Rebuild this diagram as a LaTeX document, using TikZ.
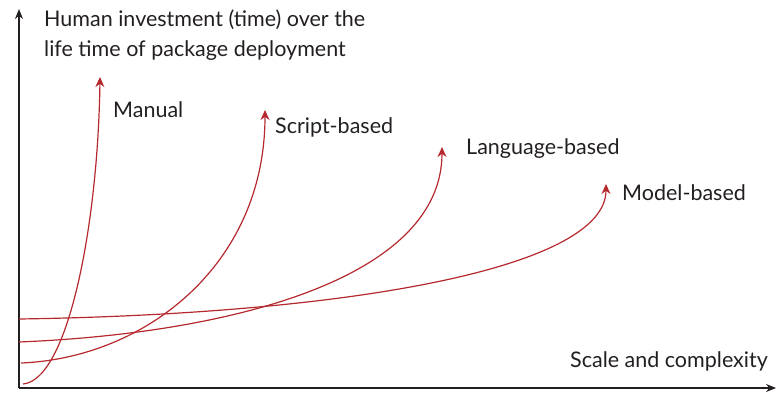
\documentclass[tikz,border=0pt]{standalone}
\usepackage{fontspec}
\setmainfont{Lato}
\usetikzlibrary{arrows.meta,positioning}
\definecolor{curvered}{RGB}{181,41,46}
\definecolor{inkgrey}{RGB}{35,31,32}

\begin{document}
\begin{tikzpicture}[x=1pt,y=-1pt]
\tikzstyle{every node}+=[inner sep=0pt,text=inkgrey,font=\fontsize{21.5}{30}\selectfont]
\tikzstyle{axis}=[draw=inkgrey,line width=1.3pt,-{Stealth[length=10pt,width=8pt]}]
\tikzstyle{curve}=[draw=curvered,line width=1.2pt,-{Stealth[length=10pt,width=9pt]}]
\useasboundingbox (0,0) rectangle (776,394);
% axes
\coordinate (o) at (19,388);
\coordinate (ytop) at (19,9);
\coordinate (xend) at (776,388);
\draw [axis] (o) -- (ytop);
\draw [axis] (o) -- (xend);
\node [anchor=west,align=left] (ylab) at (44,35) {Human investment (time) over the\\life time of package deployment};
\node [anchor=east] (xlab) at (768,361) {Scale and complexity};
% curve start and end points
\coordinate (man0) at (23,384);
\coordinate (man1) at (100,77);
\coordinate (scr0) at (21,363);
\coordinate (scr1) at (265,110);
\coordinate (lan0) at (19,342);
\coordinate (lan1) at (442,147);
\coordinate (mod0) at (19,319);
\coordinate (mod1) at (606,184);
% curves
\draw [curve] (man0) .. controls (68,380) and (98,225) .. (man1);
\draw [curve] (scr0) .. controls (145,358) and (265,265) .. (scr1);
\draw [curve] (lan0) .. controls (238,333) and (442,276) .. (lan1);
\draw [curve] (mod0) .. controls (350,314) and (606,268) .. (mod1);
% labels
\node [anchor=west] (manlab) at (113,110) {Manual};
\node [anchor=west] (scrlab) at (275,127) {Script-based};
\node [anchor=west] (lanlab) at (466,149) {Language-based};
\node [anchor=west] (modlab) at (622,193) {Model-based};
\end{tikzpicture}
\end{document}
